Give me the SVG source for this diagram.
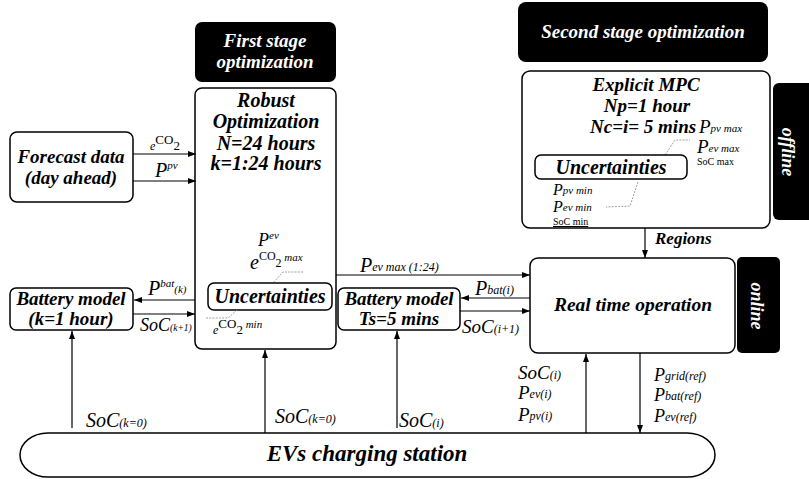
<svg xmlns="http://www.w3.org/2000/svg" width="809" height="479" viewBox="0 0 809 479" font-family="'Liberation Serif', 'DejaVu Serif', 'Noto Serif', 'Times New Roman', serif">
<style>
text{font-family:'Liberation Serif','DejaVu Serif','Noto Serif','Times New Roman',serif}
.b{font-weight:bold;font-style:italic;fill:#000}
.bw{font-weight:bold;font-style:italic;fill:#fff}
.i{font-style:italic;fill:#000}
.r{fill:#000}
.box{fill:#fff;stroke:#000;stroke-width:1.5}
.blk{fill:#000}
.ln{stroke:#000;stroke-width:1.2;fill:none}
.dot{stroke:#888;stroke-width:0.8;stroke-dasharray:2 1.2;fill:none}
.c{text-anchor:middle}
</style>
<defs>
<marker id="ah" viewBox="0 0 8 6" refX="8" refY="3" markerWidth="8" markerHeight="6" orient="auto" markerUnits="userSpaceOnUse"><path d="M0,0 L8,3 L0,6 z" fill="#000"/></marker>
</defs>

<g id="first-stage">
<rect class="blk" x="195" y="22" width="141" height="60" rx="7"/>
<text class="bw c" x="265" y="47" font-size="19">First stage</text>
<text class="bw c" x="265" y="68" font-size="19">optimization</text>
</g>

<g id="robust-optimization">
<rect class="box" x="195" y="88" width="141" height="261" rx="7"/>
<text class="b c" x="266" y="107" font-size="20">Robust</text>
<text class="b c" x="266" y="128" font-size="20">Optimization</text>
<text class="b c" x="266" y="150" font-size="20">N=24 hours</text>
<text class="b c" x="266" y="170" font-size="20">k=1:24 hours</text>
<text class="i" x="258" y="246" font-size="18">P<tspan font-size="11" dy="-7">ev</tspan></text>
<text class="i" x="250" y="269" font-size="20">e<tspan font-style="normal" font-size="12" dy="-9">CO</tspan><tspan font-style="normal" font-size="12" dy="7">2</tspan><tspan font-size="11" dy="-6"> max</tspan></text>
<path class="dot" d="M303,272 L283,272 L273,283"/>
<rect class="box" x="208" y="283" width="124" height="27" rx="6" stroke-width="2"/>
<text class="b c" x="270" y="303" font-size="20">Uncertainties</text>
<path class="dot" d="M237,310 L228,318 L205,318"/>
<text class="i" x="213" y="334" font-size="12">e<tspan font-style="normal" font-size="13" dy="-6">CO</tspan><tspan font-style="normal" font-size="13" dy="6">2</tspan><tspan font-size="11" dy="-6"> min</tspan></text>
</g>

<g id="forecast-data">
<rect class="box" x="10" y="132" width="123" height="70" rx="7"/>
<text class="b c" x="71" y="163" font-size="19">Forecast data</text>
<text class="b c" x="71" y="184" font-size="19">(day ahead)</text>
</g>

<g id="battery-model-hour">
<rect class="box" x="10" y="288" width="123" height="42" rx="6"/>
<text class="b c" x="71" y="305" font-size="19">Battery model</text>
<text class="b c" x="71" y="325" font-size="19">(k=1 hour)</text>
</g>

<g id="battery-model-5min">
<rect class="box" x="338" y="288" width="122" height="42" rx="6"/>
<text class="b c" x="399" y="305" font-size="19">Battery model</text>
<text class="b c" x="399" y="325" font-size="19">Ts=5 mins</text>
</g>

<g id="second-stage">
<rect class="blk" x="518" y="2" width="250" height="60" rx="8"/>
<text class="bw c" x="643" y="38" font-size="19">Second stage optimization</text>
</g>

<g id="explicit-mpc">
<rect class="box" x="522" y="71" width="248" height="157" rx="8"/>
<text class="b c" x="646" y="91" font-size="19">Explicit MPC</text>
<text class="b c" x="647" y="112" font-size="19">Np=1 hour</text>
<text class="b" x="590" y="133" font-size="19">Nc=i= 5 mins</text>
<text class="i" x="699" y="133" font-size="19">P<tspan font-size="11" dy="-1">pv max</tspan></text>
<text class="i" x="697" y="153" font-size="19">P<tspan font-size="11" dy="-1">ev max</tspan></text>
<text class="r" x="697" y="165" font-size="10">SoC max</text>
<path class="dot" d="M665,155 L675,140 L690,140"/>
<rect class="box" x="535" y="155" width="152" height="24" rx="6" stroke-width="2"/>
<text class="b c" x="611" y="174" font-size="20">Uncertainties</text>
<path class="dot" d="M638,182 L630,206 L606,207"/>
<text class="i" x="553" y="195" font-size="16">P<tspan font-size="11" dy="-1">pv min</tspan></text>
<text class="i" x="553" y="212" font-size="16">P<tspan font-size="11" dy="-1">ev min</tspan></text>
<text class="r" x="553" y="225" font-size="10" text-decoration="underline">SoC min</text>
</g>

<g id="offline">
<rect class="blk" x="773" y="83" width="42" height="137" rx="6"/>
<text class="bw c" transform="translate(782,152) rotate(90)" font-size="18">offline</text>
</g>

<g id="real-time-operation">
<rect class="box" x="530" y="258" width="205" height="95" rx="8"/>
<text class="b c" x="633" y="311" font-size="19.5">Real time operation</text>
</g>

<g id="online">
<rect class="blk" x="737" y="257" width="43" height="96" rx="5"/>
<text class="bw c" transform="translate(751,306) rotate(90)" font-size="18">online</text>
</g>

<g id="ev-charging-station">
<rect class="box" x="20" y="433" width="695" height="44" rx="28" ry="22"/>
<text class="b c" x="367" y="461" font-size="23">EVs charging station</text>
</g>

<g id="connectors">
<path class="ln" d="M133,154 H196" marker-end="url(#ah)"/>
<path class="ln" d="M133,181 H196" marker-end="url(#ah)"/>
<path class="ln" d="M195,300 H134" marker-end="url(#ah)"/>
<path class="ln" d="M133,314 H195" marker-end="url(#ah)"/>
<path class="ln" d="M336,275 H530" marker-end="url(#ah)"/>
<path class="ln" d="M530,298 H461" marker-end="url(#ah)"/>
<path class="ln" d="M460,311 H530" marker-end="url(#ah)"/>
<path class="ln" d="M645,228 V258" marker-end="url(#ah)"/>
<path class="ln" d="M72,428 V331" marker-end="url(#ah)"/>
<path class="ln" d="M265,433 V350" marker-end="url(#ah)"/>
<path class="ln" d="M397,428 V331" marker-end="url(#ah)"/>
<path class="ln" d="M586,433 V354" marker-end="url(#ah)"/>
<path class="ln" d="M640,353 V433" marker-end="url(#ah)"/>
</g>

<g id="labels">
<text class="i" x="150" y="150" font-size="12">e<tspan font-style="normal" font-size="13" dy="-6">CO</tspan><tspan font-style="normal" font-size="13" dy="6">2</tspan></text>
<text class="i" x="155" y="177" font-size="20">P<tspan font-size="11" dy="-8">pv</tspan></text>
<text class="i" x="148" y="295" font-size="20">P<tspan font-size="11" dy="-8">bat</tspan><tspan font-size="11" dy="6">(k)</tspan></text>
<text class="i" x="140" y="331" font-size="18">SoC<tspan font-size="9.5">(k+1)</tspan></text>
<text class="i" x="360" y="272" font-size="20">P<tspan font-size="12" dy="-1">ev max (1:24)</tspan></text>
<text class="i" x="475" y="295" font-size="20">P<tspan font-size="12" dy="-1">bat(i)</tspan></text>
<text class="i" x="462" y="333" font-size="19">SoC<tspan font-size="12">(i+1)</tspan></text>
<text class="b" x="655" y="244" font-size="17">Regions</text>
<text class="i" x="86" y="427" font-size="20">SoC<tspan font-size="12">(k=0)</tspan></text>
<text class="i" x="275" y="423" font-size="20">SoC<tspan font-size="12">(k=0)</tspan></text>
<text class="i" x="399" y="427" font-size="20">SoC<tspan font-size="12">(i)</tspan></text>
<text class="i" x="518" y="379" font-size="19">SoC<tspan font-size="12">(i)</tspan></text>
<text class="i" x="518" y="399" font-size="19">P<tspan font-size="12" dy="-1">ev(i)</tspan></text>
<text class="i" x="518" y="421" font-size="19">P<tspan font-size="12" dy="-1">pv(i)</tspan></text>
<text class="i" x="654" y="381" font-size="18">P<tspan font-size="12" dy="-1">grid(ref)</tspan></text>
<text class="i" x="654" y="401" font-size="18">P<tspan font-size="12" dy="-1">bat(ref)</tspan></text>
<text class="i" x="654" y="422" font-size="18">P<tspan font-size="12" dy="-1">ev(ref)</tspan></text>
</g>
</svg>
